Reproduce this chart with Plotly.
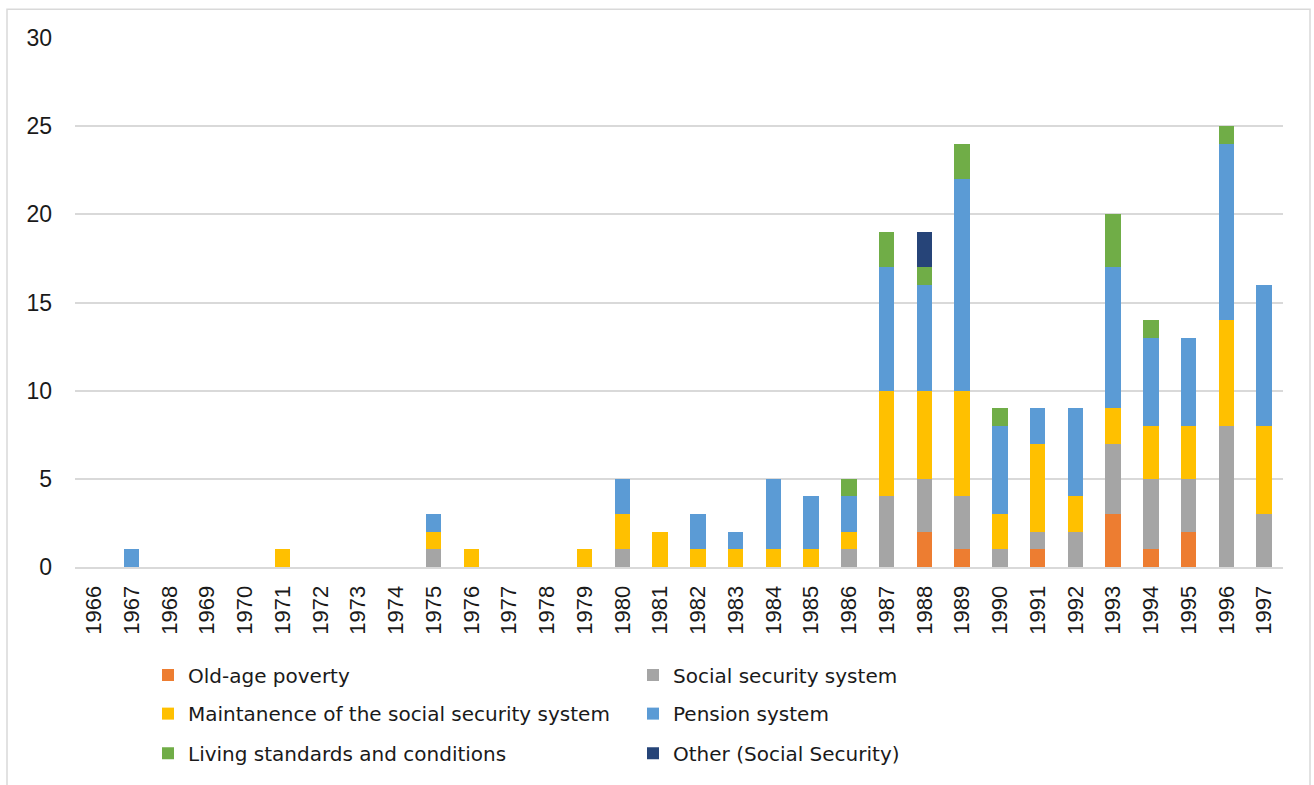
import plotly.graph_objects as go

years = [str(y) for y in range(1966, 1998)]
# values per year 1966..1997
old_age = [0,0,0,0,0,0,0,0,0,0,0,0,0,0,0,0,0,0,0,0,0,0,2,1,0,1,0,3,1,2,0,0]
social  = [0,0,0,0,0,0,0,0,0,1,0,0,0,0,1,0,0,0,0,0,1,4,3,3,1,1,2,4,4,3,8,3]
maint   = [0,0,0,0,0,1,0,0,0,1,1,0,0,1,2,2,1,1,1,1,1,6,5,6,2,5,2,2,3,3,6,5]
pension = [0,1,0,0,0,0,0,0,0,1,0,0,0,0,2,0,2,1,4,3,2,7,6,12,5,2,5,8,5,5,10,8]
living  = [0,0,0,0,0,0,0,0,0,0,0,0,0,0,0,0,0,0,0,0,1,2,1,2,1,0,0,3,1,0,1,0]
other   = [0,0,0,0,0,0,0,0,0,0,0,0,0,0,0,0,0,0,0,0,0,0,2,0,0,0,0,0,0,0,0,0]

series = [
    ("Old-age poverty", old_age, "#ED7D31", "legend"),
    ("Social security system", social, "#A5A5A5", "legend"),
    ("Maintanence of the social security system", maint, "#FFC000", "legend2"),
    ("Pension system", pension, "#5B9BD5", "legend2"),
    ("Living standards and conditions", living, "#70AD47", "legend3"),
    ("Other (Social Security)", other, "#264478", "legend3"),
]

AXFONT = "Liberation Sans, Arial, sans-serif"
LEGFONT = "DejaVu Sans, sans-serif"

fig = go.Figure()
for name, vals, col, lg in series:
    fig.add_trace(go.Bar(x=years, y=vals, name=name, marker_color=col,
                         marker_line_width=0, legend=lg))

W, H = 1314, 785
L, R, T, B = 75, 31, 38, 213
pw, ph = W - L - R, H - T - B

def px(x):
    return (x - L) / pw

def py(y):
    return (H - B - y) / ph

leg_common = dict(orientation="h", xanchor="left", yanchor="middle",
                  font=dict(family=LEGFONT, size=20, color="#1a1a1a"),
                  entrywidth=440, entrywidthmode="pixels",
                  itemwidth=30, bgcolor="rgba(0,0,0,0)", traceorder="normal")

fig.update_layout(
    width=W, height=H,
    margin=dict(l=L, r=R, t=T, b=B),
    plot_bgcolor="white", paper_bgcolor="white",
    barmode="stack", bargap=0.595,
    font=dict(family=AXFONT, size=22, color="#1a1a1a"),
    legend=dict(x=px(148), y=py(681), **leg_common),
    legend2=dict(x=px(148), y=py(720), **leg_common),
    legend3=dict(x=px(148), y=py(760), **leg_common),
    xaxis=dict(type="category", tickangle=-90, showgrid=False,
               showline=True, linecolor="#D9D9D9", linewidth=2,
               ticks="", tickfont=dict(family=AXFONT, size=22, color="#1a1a1a"),
               ticklabelstandoff=8),
    yaxis=dict(range=[0, 30], dtick=5, showgrid=True, gridcolor="#D9D9D9",
               gridwidth=1.5, zeroline=False, ticks="",
               tickfont=dict(family=AXFONT, size=23, color="#1a1a1a"),
               ticklabelstandoff=22),
    shapes=[dict(type="rect", xref="paper", yref="paper",
                 x0=px(7), x1=px(1310), y0=py(800), y1=py(9),
                 line=dict(color="#D9D9D9", width=1.5), layer="below")],
)

fig.write_html("out.html")
